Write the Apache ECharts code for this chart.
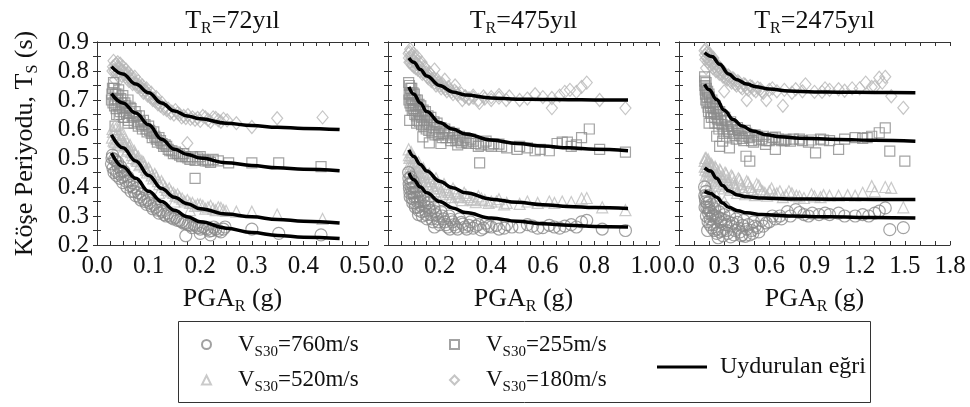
<!DOCTYPE html>
<html>
<head>
<meta charset="utf-8">
<script src="https://cdn.jsdelivr.net/npm/echarts@6/dist/echarts.min.js"></script>
<style>
  html, body { margin: 0; padding: 0; background: #fff; }
  #chart { width: 970px; height: 407px; }
</style>
</head>
<body>
<div id="chart"></div>
<script>
// ---- Return periods (one panel each) ----
const returnPeriods = ['72', '475', '2475'];
const xMaxes = [0.525, 1.05, 1.8];      // axis extent of each panel
const xTickSteps = [0.025, 0.05, 0.3];  // tick spacing
const xLabelSteps = [0.1, 0.2, 0.3];    // labelled ticks
const yTicks = [0.2, 0.9, 0.1];
const siteClasses = ['760', '520', '255', '180'];

// ---- T_R = 72 years : corner period T_S vs PGA_R ----
const tr72_v760 = [[0.028,0.480],[0.030,0.510],[0.033,0.450],[0.036,0.490],[0.038,0.440],[0.041,0.470],[0.044,0.430],[0.047,0.455],[0.050,0.415],[0.054,0.440],[0.058,0.400],[0.062,0.420],[0.066,0.385],[0.070,0.400],[0.075,0.370],[0.080,0.380],[0.085,0.355],[0.090,0.360],[0.096,0.340],[0.102,0.345],[0.108,0.325],[0.114,0.330],[0.120,0.310],[0.127,0.315],[0.134,0.300],[0.141,0.300],[0.148,0.290],[0.156,0.285],[0.164,0.280],[0.172,0.275],[0.180,0.268],[0.188,0.270],[0.196,0.260],[0.205,0.262],[0.214,0.255],[0.222,0.250],[0.230,0.255],[0.240,0.245],[0.248,0.262],[0.300,0.255],[0.352,0.240],[0.434,0.235],[0.172,0.232],[0.200,0.240],[0.220,0.235],
  [0.029,0.500],[0.031,0.465],[0.034,0.495],[0.037,0.455],[0.040,0.485],[0.043,0.445],[0.046,0.470],[0.049,0.435],[0.052,0.455],[0.056,0.420],[0.060,0.435],[0.064,0.405],[0.068,0.415],[0.072,0.385],[0.077,0.395],[0.082,0.365],[0.087,0.375],[0.093,0.350],[0.099,0.355],[0.105,0.335],[0.111,0.340],[0.117,0.320],[0.123,0.320],[0.130,0.305],[0.137,0.310],[0.144,0.295],[0.152,0.295],[0.160,0.285],[0.168,0.275],[0.176,0.270],[0.184,0.260],[0.192,0.265],[0.200,0.255],[0.210,0.258],[0.218,0.248],[0.226,0.262],[0.235,0.250],[0.245,0.255]];
const tr72_v520 = [[0.030,0.600],[0.032,0.560],[0.035,0.615],[0.038,0.580],[0.040,0.545],[0.043,0.600],[0.046,0.565],[0.050,0.585],[0.053,0.540],[0.056,0.560],[0.060,0.530],[0.064,0.545],[0.068,0.510],[0.072,0.525],[0.076,0.495],[0.080,0.505],[0.085,0.480],[0.090,0.485],[0.095,0.460],[0.100,0.465],[0.106,0.440],[0.112,0.445],[0.118,0.420],[0.125,0.420],[0.132,0.400],[0.140,0.395],[0.148,0.380],[0.156,0.375],[0.165,0.360],[0.175,0.355],[0.185,0.345],[0.195,0.340],[0.205,0.335],[0.215,0.330],[0.225,0.325],[0.235,0.330],[0.245,0.320],[0.270,0.315],[0.300,0.315],[0.349,0.305],[0.437,0.290],[0.150,0.350],[0.120,0.380],[0.180,0.320],
  [0.029,0.570],[0.031,0.590],[0.034,0.555],[0.036,0.600],[0.039,0.565],[0.042,0.580],[0.045,0.550],[0.048,0.570],[0.051,0.555],[0.055,0.545],[0.058,0.525],[0.062,0.540],[0.066,0.520],[0.070,0.500],[0.074,0.515],[0.078,0.490],[0.082,0.475],[0.087,0.490],[0.092,0.470],[0.097,0.450],[0.103,0.455],[0.109,0.430],[0.115,0.435],[0.121,0.410],[0.128,0.410],[0.135,0.390],[0.143,0.385],[0.152,0.370],[0.160,0.365],[0.170,0.350],[0.180,0.345],[0.190,0.335],[0.200,0.340],[0.210,0.325],[0.220,0.335],[0.230,0.320],[0.240,0.328],[0.250,0.318]];
const tr72_v255 = [[0.028,0.700],[0.030,0.740],[0.032,0.760],[0.034,0.680],[0.036,0.720],[0.038,0.650],[0.040,0.700],[0.042,0.735],[0.045,0.660],[0.047,0.690],[0.050,0.715],[0.053,0.640],[0.056,0.680],[0.060,0.700],[0.063,0.655],[0.066,0.670],[0.070,0.640],[0.074,0.660],[0.078,0.625],[0.082,0.645],[0.086,0.615],[0.090,0.630],[0.095,0.600],[0.100,0.610],[0.105,0.585],[0.110,0.590],[0.115,0.565],[0.120,0.570],[0.126,0.550],[0.132,0.545],[0.138,0.530],[0.145,0.525],[0.152,0.520],[0.160,0.510],[0.168,0.515],[0.176,0.500],[0.185,0.505],[0.195,0.500],[0.205,0.495],[0.215,0.490],[0.225,0.495],[0.255,0.483],[0.300,0.483],[0.352,0.483],[0.434,0.470],[0.190,0.430],[0.060,0.620],[0.035,0.610],
  [0.029,0.720],[0.031,0.690],[0.033,0.740],[0.035,0.700],[0.037,0.670],[0.039,0.720],[0.041,0.680],[0.043,0.650],[0.046,0.705],[0.049,0.670],[0.051,0.640],[0.054,0.690],[0.057,0.655],[0.061,0.630],[0.064,0.675],[0.068,0.645],[0.072,0.620],[0.076,0.645],[0.080,0.610],[0.084,0.625],[0.088,0.600],[0.093,0.615],[0.097,0.590],[0.102,0.595],[0.107,0.570],[0.112,0.575],[0.117,0.555],[0.123,0.560],[0.129,0.540],[0.135,0.540],[0.141,0.525],[0.148,0.515],[0.156,0.515],[0.164,0.505],[0.172,0.505],[0.180,0.495],[0.190,0.492],[0.200,0.505],[0.210,0.490],[0.220,0.485],[0.235,0.490]];
const tr72_v180 = [[0.030,0.800],[0.032,0.835],[0.035,0.820],[0.038,0.790],[0.040,0.830],[0.042,0.810],[0.045,0.825],[0.048,0.800],[0.050,0.815],[0.053,0.790],[0.056,0.805],[0.060,0.795],[0.063,0.775],[0.066,0.785],[0.070,0.770],[0.073,0.780],[0.076,0.755],[0.080,0.765],[0.084,0.745],[0.088,0.750],[0.092,0.735],[0.096,0.740],[0.100,0.720],[0.105,0.725],[0.110,0.705],[0.115,0.710],[0.120,0.690],[0.126,0.690],[0.132,0.675],[0.138,0.670],[0.145,0.660],[0.152,0.665],[0.160,0.650],[0.168,0.645],[0.176,0.648],[0.185,0.640],[0.195,0.638],[0.205,0.645],[0.215,0.632],[0.225,0.640],[0.235,0.630],[0.245,0.635],[0.270,0.620],[0.300,0.607],[0.349,0.637],[0.437,0.640],[0.175,0.551],[0.035,0.770],[0.045,0.775],
  [0.031,0.815],[0.034,0.800],[0.037,0.825],[0.041,0.795],[0.044,0.810],[0.047,0.785],[0.051,0.800],[0.055,0.780],[0.058,0.790],[0.062,0.765],[0.065,0.770],[0.069,0.755],[0.072,0.760],[0.078,0.745],[0.082,0.750],[0.086,0.735],[0.090,0.725],[0.094,0.730],[0.098,0.715],[0.103,0.710],[0.108,0.700],[0.113,0.695],[0.118,0.685],[0.123,0.680],[0.129,0.670],[0.135,0.665],[0.142,0.655],[0.149,0.650],[0.156,0.655],[0.164,0.640],[0.172,0.638],[0.181,0.635],[0.190,0.632],[0.200,0.628],[0.210,0.640],[0.220,0.625],[0.230,0.638],[0.240,0.625],[0.252,0.630]];

// ---- T_R = 475 years ----
const tr475_v760 = [[0.080,0.450],[0.082,0.410],[0.085,0.380],[0.088,0.435],[0.091,0.395],[0.094,0.360],[0.097,0.420],[0.100,0.380],[0.104,0.345],[0.108,0.400],[0.112,0.365],[0.116,0.330],[0.120,0.385],[0.125,0.350],[0.130,0.315],[0.136,0.365],[0.142,0.335],[0.148,0.305],[0.155,0.345],[0.162,0.320],[0.170,0.290],[0.178,0.330],[0.186,0.305],[0.195,0.280],[0.205,0.315],[0.215,0.290],[0.225,0.270],[0.237,0.300],[0.250,0.280],[0.263,0.262],[0.277,0.290],[0.290,0.272],[0.305,0.255],[0.320,0.280],[0.340,0.265],[0.360,0.252],[0.380,0.275],[0.400,0.262],[0.430,0.255],[0.460,0.270],[0.510,0.262],[0.560,0.265],[0.600,0.260],[0.645,0.262],[0.685,0.265],[0.730,0.262],[0.750,0.280],[0.770,0.285],[0.830,0.255],[0.920,0.250],[0.180,0.262],[0.240,0.255],[0.118,0.305],
  [0.081,0.430],[0.083,0.395],[0.086,0.365],[0.089,0.415],[0.093,0.380],[0.096,0.345],[0.099,0.400],[0.103,0.365],[0.106,0.330],[0.110,0.385],[0.114,0.350],[0.118,0.320],[0.123,0.365],[0.128,0.335],[0.133,0.300],[0.139,0.350],[0.145,0.318],[0.151,0.290],[0.158,0.330],[0.166,0.305],[0.174,0.280],[0.182,0.315],[0.191,0.290],[0.200,0.270],[0.210,0.300],[0.220,0.280],[0.231,0.262],[0.243,0.288],[0.256,0.270],[0.270,0.255],[0.284,0.278],[0.298,0.262],[0.313,0.268],[0.330,0.258],[0.350,0.270],[0.370,0.258],[0.390,0.265],[0.420,0.268],[0.450,0.258],[0.480,0.262],[0.540,0.270],[0.580,0.258],[0.625,0.268],[0.665,0.258],[0.710,0.270]];
const tr475_v520 = [[0.080,0.530],[0.083,0.500],[0.086,0.470],[0.090,0.520],[0.094,0.485],[0.098,0.455],[0.102,0.500],[0.107,0.470],[0.112,0.440],[0.118,0.485],[0.124,0.450],[0.130,0.425],[0.137,0.465],[0.144,0.435],[0.152,0.410],[0.160,0.445],[0.168,0.420],[0.177,0.395],[0.186,0.430],[0.196,0.405],[0.206,0.385],[0.217,0.410],[0.228,0.390],[0.240,0.375],[0.252,0.395],[0.265,0.378],[0.280,0.365],[0.295,0.380],[0.310,0.365],[0.330,0.355],[0.350,0.368],[0.375,0.355],[0.400,0.350],[0.430,0.358],[0.460,0.345],[0.540,0.350],[0.625,0.350],[0.675,0.350],[0.710,0.348],[0.750,0.360],[0.770,0.362],[0.830,0.330],[0.920,0.320],[0.155,0.355],[0.200,0.350],[0.120,0.380],[0.100,0.400],[0.250,0.345],
  [0.081,0.510],[0.084,0.480],[0.087,0.455],[0.091,0.505],[0.095,0.470],[0.100,0.445],[0.104,0.490],[0.109,0.455],[0.114,0.430],[0.120,0.470],[0.126,0.440],[0.133,0.415],[0.140,0.450],[0.147,0.420],[0.155,0.400],[0.163,0.430],[0.172,0.405],[0.181,0.385],[0.191,0.415],[0.201,0.395],[0.212,0.375],[0.223,0.400],[0.234,0.382],[0.246,0.365],[0.259,0.385],[0.272,0.368],[0.287,0.355],[0.302,0.372],[0.320,0.358],[0.340,0.348],[0.362,0.360],[0.390,0.345],[0.420,0.350],[0.450,0.340],[0.510,0.342],[0.580,0.345],[0.645,0.345]];
const tr475_v255 = [[0.080,0.760],[0.082,0.720],[0.085,0.690],[0.088,0.740],[0.091,0.705],[0.094,0.665],[0.097,0.725],[0.100,0.690],[0.104,0.650],[0.108,0.700],[0.112,0.670],[0.116,0.630],[0.120,0.685],[0.125,0.650],[0.130,0.615],[0.136,0.665],[0.142,0.630],[0.148,0.600],[0.155,0.645],[0.162,0.615],[0.170,0.590],[0.178,0.625],[0.186,0.600],[0.195,0.580],[0.205,0.605],[0.215,0.585],[0.225,0.570],[0.237,0.590],[0.250,0.570],[0.263,0.560],[0.277,0.575],[0.290,0.560],[0.305,0.555],[0.320,0.565],[0.340,0.550],[0.360,0.545],[0.380,0.558],[0.400,0.540],[0.430,0.548],[0.460,0.535],[0.510,0.540],[0.570,0.525],[0.625,0.525],[0.655,0.550],[0.675,0.555],[0.695,0.555],[0.750,0.570],[0.780,0.600],[0.820,0.530],[0.920,0.520],[0.355,0.483],[0.084,0.630],[0.111,0.620],[0.135,0.573],[0.160,0.552],[0.205,0.550],[0.270,0.545],[0.500,0.530],
  [0.081,0.700],[0.083,0.750],[0.086,0.720],[0.089,0.680],[0.092,0.740],[0.095,0.700],[0.099,0.670],[0.102,0.720],[0.106,0.680],[0.110,0.645],[0.114,0.700],[0.118,0.660],[0.122,0.625],[0.127,0.680],[0.132,0.640],[0.138,0.610],[0.145,0.660],[0.151,0.620],[0.158,0.595],[0.166,0.640],[0.174,0.605],[0.182,0.580],[0.190,0.620],[0.200,0.590],[0.210,0.570],[0.220,0.600],[0.231,0.580],[0.243,0.560],[0.256,0.585],[0.270,0.565],[0.284,0.552],[0.298,0.570],[0.313,0.550],[0.330,0.558],[0.350,0.540],[0.370,0.552],[0.390,0.545],[0.410,0.550],[0.440,0.540],[0.540,0.535],[0.590,0.530],[0.710,0.540],[0.730,0.545]];
const tr475_v180 = [[0.080,0.860],[0.083,0.830],[0.086,0.875],[0.090,0.845],[0.094,0.820],[0.098,0.860],[0.102,0.835],[0.107,0.810],[0.112,0.850],[0.118,0.820],[0.124,0.800],[0.130,0.830],[0.137,0.795],[0.144,0.810],[0.152,0.780],[0.160,0.795],[0.168,0.765],[0.177,0.775],[0.186,0.750],[0.196,0.760],[0.206,0.740],[0.217,0.745],[0.228,0.730],[0.240,0.735],[0.252,0.720],[0.265,0.725],[0.288,0.700],[0.300,0.712],[0.315,0.705],[0.330,0.715],[0.354,0.690],[0.375,0.705],[0.400,0.710],[0.430,0.717],[0.458,0.700],[0.510,0.700],[0.570,0.720],[0.635,0.672],[0.635,0.707],[0.685,0.728],[0.705,0.735],[0.750,0.745],[0.770,0.760],[0.820,0.700],[0.920,0.672],[0.180,0.805],[0.220,0.770],[0.260,0.750],
  [0.081,0.845],[0.084,0.865],[0.088,0.830],[0.092,0.855],[0.096,0.835],[0.100,0.815],[0.105,0.845],[0.110,0.825],[0.115,0.805],[0.121,0.830],[0.127,0.810],[0.133,0.790],[0.140,0.815],[0.148,0.795],[0.156,0.775],[0.164,0.790],[0.172,0.770],[0.181,0.760],[0.191,0.770],[0.201,0.750],[0.211,0.755],[0.222,0.738],[0.234,0.745],[0.246,0.728],[0.258,0.732],[0.271,0.718],[0.284,0.722],[0.298,0.712],[0.312,0.705],[0.330,0.708],[0.350,0.700],[0.370,0.712],[0.400,0.700],[0.430,0.708],[0.470,0.712],[0.540,0.705],[0.600,0.710],[0.665,0.715],[0.730,0.728]];

// ---- T_R = 2475 years ----
const tr2475_v760 = [[0.170,0.400],[0.175,0.360],[0.180,0.385],[0.185,0.330],[0.190,0.370],[0.196,0.310],[0.202,0.350],[0.208,0.290],[0.215,0.340],[0.222,0.300],[0.230,0.270],[0.238,0.325],[0.246,0.290],[0.255,0.255],[0.265,0.315],[0.275,0.280],[0.286,0.250],[0.298,0.305],[0.310,0.270],[0.323,0.240],[0.336,0.300],[0.350,0.265],[0.365,0.235],[0.380,0.290],[0.396,0.258],[0.413,0.232],[0.430,0.285],[0.450,0.255],[0.470,0.235],[0.495,0.280],[0.520,0.260],[0.550,0.285],[0.580,0.276],[0.620,0.300],[0.670,0.300],[0.720,0.315],[0.775,0.322],[0.830,0.305],[0.885,0.310],[0.970,0.310],[1.060,0.310],[1.170,0.300],[1.260,0.300],[1.330,0.317],[1.370,0.328],[1.400,0.253],[1.490,0.260],[0.190,0.250],[0.260,0.225],[0.420,0.236],[0.490,0.240],[0.300,0.330],[0.200,0.320],
  [0.171,0.370],[0.173,0.330],[0.177,0.350],[0.182,0.300],[0.187,0.345],[0.193,0.280],[0.199,0.330],[0.205,0.270],[0.211,0.315],[0.218,0.260],[0.226,0.305],[0.234,0.250],[0.242,0.300],[0.251,0.240],[0.260,0.295],[0.270,0.245],[0.280,0.290],[0.292,0.232],[0.304,0.285],[0.316,0.250],[0.330,0.280],[0.343,0.228],[0.357,0.275],[0.372,0.250],[0.388,0.278],[0.405,0.245],[0.422,0.268],[0.440,0.230],[0.460,0.270],[0.482,0.250],[0.505,0.265],[0.530,0.245],[0.560,0.265],[0.600,0.280],[0.640,0.290],[0.680,0.290],[0.740,0.300],[0.800,0.312],[0.860,0.300],[0.930,0.305],[1.000,0.305],[1.100,0.300],[1.220,0.305],[1.300,0.310]];
const tr2475_v520 = [[0.170,0.490],[0.175,0.460],[0.180,0.500],[0.186,0.470],[0.192,0.440],[0.198,0.485],[0.205,0.455],[0.212,0.425],[0.220,0.475],[0.228,0.445],[0.236,0.415],[0.245,0.465],[0.255,0.435],[0.265,0.405],[0.276,0.455],[0.288,0.425],[0.300,0.395],[0.313,0.445],[0.326,0.415],[0.340,0.390],[0.355,0.435],[0.370,0.405],[0.386,0.380],[0.402,0.425],[0.420,0.400],[0.440,0.375],[0.460,0.415],[0.482,0.392],[0.505,0.372],[0.530,0.405],[0.556,0.385],[0.585,0.370],[0.615,0.395],[0.650,0.378],[0.690,0.365],[0.730,0.385],[0.780,0.370],[0.830,0.362],[0.880,0.375],[0.940,0.365],[1.000,0.370],[1.060,0.370],[1.170,0.370],[1.280,0.403],[1.370,0.400],[1.410,0.397],[1.490,0.330],[0.200,0.400],[0.250,0.370],[0.300,0.350],[0.180,0.420],
  [0.171,0.470],[0.174,0.500],[0.178,0.440],[0.183,0.480],[0.188,0.455],[0.194,0.495],[0.200,0.465],[0.207,0.440],[0.214,0.480],[0.222,0.455],[0.230,0.430],[0.240,0.470],[0.250,0.445],[0.260,0.420],[0.271,0.460],[0.282,0.435],[0.294,0.410],[0.306,0.450],[0.319,0.425],[0.333,0.400],[0.347,0.440],[0.362,0.415],[0.378,0.395],[0.394,0.430],[0.411,0.410],[0.430,0.390],[0.450,0.420],[0.470,0.400],[0.492,0.385],[0.516,0.410],[0.540,0.392],[0.570,0.380],[0.600,0.385],[0.630,0.375],[0.670,0.385],[0.710,0.372],[0.750,0.378],[0.800,0.368],[0.900,0.368],[0.960,0.372],[1.120,0.372],[1.220,0.380],[1.300,0.385]];
const tr2475_v255 = [[0.170,0.780],[0.172,0.750],[0.176,0.720],[0.180,0.760],[0.185,0.690],[0.190,0.730],[0.196,0.660],[0.202,0.710],[0.208,0.680],[0.215,0.640],[0.222,0.690],[0.230,0.660],[0.238,0.620],[0.246,0.670],[0.255,0.635],[0.265,0.600],[0.275,0.650],[0.286,0.615],[0.298,0.585],[0.310,0.630],[0.323,0.600],[0.336,0.575],[0.350,0.610],[0.365,0.585],[0.380,0.565],[0.396,0.595],[0.413,0.575],[0.430,0.560],[0.450,0.585],[0.470,0.570],[0.495,0.555],[0.520,0.575],[0.550,0.565],[0.580,0.560],[0.620,0.570],[0.660,0.565],[0.700,0.560],[0.760,0.565],[0.820,0.560],[0.880,0.562],[0.940,0.565],[1.000,0.560],[0.200,0.620],[0.250,0.575],[0.290,0.558],[0.335,0.535],[0.445,0.506],[0.470,0.489],[0.575,0.547],[0.640,0.530],[0.710,0.564],[0.907,0.518],[1.060,0.530],[1.170,0.570],[1.280,0.575],[1.330,0.587],[1.370,0.604],[1.400,0.524],[1.500,0.489],[0.270,0.540],
  [0.171,0.765],[0.174,0.735],[0.178,0.700],[0.182,0.740],[0.187,0.710],[0.193,0.675],[0.199,0.720],[0.205,0.690],[0.211,0.655],[0.218,0.700],[0.226,0.670],[0.234,0.640],[0.242,0.680],[0.251,0.650],[0.260,0.620],[0.270,0.660],[0.280,0.630],[0.292,0.600],[0.304,0.640],[0.316,0.610],[0.330,0.590],[0.343,0.625],[0.357,0.598],[0.372,0.578],[0.388,0.605],[0.405,0.585],[0.422,0.568],[0.440,0.595],[0.460,0.575],[0.482,0.560],[0.505,0.580],[0.530,0.562],[0.560,0.575],[0.600,0.560],[0.640,0.572],[0.680,0.560],[0.740,0.558],[0.800,0.565],[0.860,0.555],[0.960,0.562],[1.100,0.565],[1.220,0.568],[1.250,0.570]];
const tr2475_v180 = [[0.170,0.870],[0.175,0.840],[0.180,0.810],[0.185,0.860],[0.192,0.830],[0.200,0.855],[0.208,0.820],[0.216,0.845],[0.225,0.810],[0.235,0.830],[0.245,0.800],[0.256,0.815],[0.268,0.790],[0.280,0.805],[0.293,0.780],[0.306,0.790],[0.320,0.770],[0.335,0.780],[0.350,0.760],[0.366,0.770],[0.382,0.750],[0.400,0.760],[0.420,0.740],[0.440,0.752],[0.460,0.735],[0.485,0.745],[0.510,0.730],[0.540,0.738],[0.580,0.700],[0.620,0.740],[0.690,0.680],[0.775,0.737],[0.840,0.754],[0.970,0.740],[1.060,0.737],[1.150,0.740],[1.240,0.760],[1.280,0.745],[1.330,0.777],[1.370,0.780],[1.410,0.713],[1.490,0.673],[0.450,0.700],[0.300,0.730],[0.560,0.725],[0.900,0.728],[1.100,0.732],
  [0.172,0.855],[0.177,0.875],[0.183,0.845],[0.189,0.865],[0.195,0.840],[0.203,0.860],[0.211,0.835],[0.219,0.825],[0.228,0.845],[0.238,0.815],[0.249,0.825],[0.260,0.800],[0.272,0.810],[0.285,0.790],[0.298,0.795],[0.312,0.775],[0.327,0.785],[0.342,0.765],[0.358,0.775],[0.374,0.755],[0.391,0.765],[0.410,0.745],[0.430,0.755],[0.450,0.740],[0.472,0.748],[0.497,0.735],[0.522,0.742],[0.550,0.730],[0.600,0.735],[0.650,0.730],[0.700,0.735],[0.750,0.725],[0.820,0.730],[0.950,0.728],[1.000,0.735],[1.200,0.740],[1.300,0.745],[1.350,0.760]];

// ---- Fitted curves ----
const fit72_v760 = [[0.028,0.517],[0.05,0.47],[0.075,0.43],[0.1,0.385],[0.125,0.35],[0.15,0.32],[0.175,0.297],[0.2,0.28],[0.25,0.258],[0.3,0.243],[0.35,0.233],[0.4,0.227],[0.47,0.222]];
const fit72_v520 = [[0.028,0.58],[0.05,0.535],[0.075,0.49],[0.1,0.44],[0.125,0.395],[0.15,0.365],[0.175,0.342],[0.2,0.325],[0.25,0.307],[0.3,0.297],[0.35,0.288],[0.4,0.282],[0.47,0.276]];
const fit72_v255 = [[0.028,0.722],[0.05,0.69],[0.075,0.655],[0.1,0.615],[0.125,0.565],[0.15,0.53],[0.175,0.512],[0.2,0.5],[0.25,0.484],[0.3,0.474],[0.35,0.466],[0.4,0.461],[0.47,0.456]];
const fit72_v180 = [[0.028,0.815],[0.05,0.79],[0.075,0.755],[0.1,0.725],[0.125,0.69],[0.15,0.662],[0.175,0.645],[0.2,0.635],[0.25,0.62],[0.3,0.612],[0.35,0.606],[0.4,0.602],[0.47,0.598]];
const fit475_v760 = [[0.081,0.448],[0.1,0.425],[0.125,0.4],[0.15,0.38],[0.2,0.35],[0.25,0.328],[0.3,0.312],[0.4,0.293],[0.5,0.282],[0.6,0.273],[0.7,0.268],[0.8,0.264],[0.93,0.262]];
const fit475_v520 = [[0.081,0.528],[0.1,0.505],[0.125,0.478],[0.15,0.455],[0.2,0.42],[0.25,0.397],[0.3,0.38],[0.4,0.358],[0.5,0.347],[0.6,0.339],[0.7,0.333],[0.8,0.329],[0.93,0.326]];
const fit475_v255 = [[0.081,0.745],[0.1,0.72],[0.125,0.69],[0.15,0.66],[0.2,0.622],[0.25,0.6],[0.3,0.583],[0.4,0.562],[0.5,0.55],[0.6,0.541],[0.7,0.535],[0.8,0.53],[0.93,0.525]];
const fit475_v180 = [[0.081,0.845],[0.1,0.83],[0.125,0.805],[0.15,0.783],[0.2,0.75],[0.25,0.728],[0.3,0.717],[0.4,0.707],[0.5,0.703],[0.6,0.702],[0.7,0.701],[0.8,0.7],[0.93,0.7]];
const fit2475_v760 = [[0.17,0.385],[0.21,0.378],[0.25,0.365],[0.29,0.345],[0.33,0.33],[0.39,0.318],[0.45,0.311],[0.55,0.305],[0.73,0.3],[1.0,0.297],[1.3,0.295],[1.57,0.293]];
const fit2475_v520 = [[0.17,0.466],[0.21,0.455],[0.25,0.43],[0.29,0.405],[0.33,0.387],[0.39,0.372],[0.45,0.366],[0.55,0.362],[0.73,0.359],[1.0,0.358],[1.3,0.357],[1.57,0.357]];
const fit2475_v255 = [[0.17,0.754],[0.2,0.735],[0.25,0.702],[0.3,0.665],[0.36,0.633],[0.42,0.61],[0.49,0.593],[0.58,0.58],[0.67,0.573],[0.8,0.568],[1.06,0.564],[1.3,0.561],[1.57,0.558]];
const fit2475_v180 = [[0.17,0.863],[0.22,0.85],[0.27,0.823],[0.33,0.79],[0.38,0.771],[0.45,0.755],[0.51,0.746],[0.6,0.738],[0.73,0.731],[0.9,0.728],[1.06,0.727],[1.3,0.726],[1.57,0.725]];

const pointSets = [
  { '760': tr72_v760, '520': tr72_v520, '255': tr72_v255, '180': tr72_v180 },
  { '760': tr475_v760, '520': tr475_v520, '255': tr475_v255, '180': tr475_v180 },
  { '760': tr2475_v760, '520': tr2475_v520, '255': tr2475_v255, '180': tr2475_v180 }
];
const fitSets = [
  [fit72_v760, fit72_v520, fit72_v255, fit72_v180],
  [fit475_v760, fit475_v520, fit475_v255, fit475_v180],
  [fit2475_v760, fit2475_v520, fit2475_v255, fit2475_v180]
];

// ---- Styling ----
const FONT = '"Liberation Serif", "Times New Roman", serif';
const INK = '#111';
const AXIS = '#333';
const markerStyle = {
  '760': { symbol: 'circle', size: 12, color: '#8a8a8a' },
  '520': { symbol: 'triangle', size: 11, color: '#bdbdbd' },
  '255': { symbol: 'rect', size: 10, color: '#8c8c8c' },
  '180': { symbol: 'diamond', size: [11, 13], color: '#b6b6b6' }
};
const seriesName = c => 'V' + c;
const fitName = 'Uydurulan eğri';

const gridLeft = [97, 388, 679];
const gridTop = 42, gridW = 271, gridH = 203;

const rich = {
  t: { fontFamily: FONT, fontSize: 26, color: INK },
  s: { fontFamily: FONT, fontSize: 16, color: INK, padding: [16, 0, 0, 0] }
};

// label only the ticks that fall on a multiple of the label step
const labelAt = step => v => {
  const k = v / step;
  return Math.abs(k - Math.round(k)) < 1e-6 ? v.toFixed(1) : '';
};

const grids = [], xAxes = [], yAxes = [], series = [];
returnPeriods.forEach((tr, i) => {
  grids.push({ left: gridLeft[i], top: gridTop, width: gridW, height: gridH });
  const tickBase = {
    axisLine: { show: true, lineStyle: { color: AXIS, width: 1 } },
    axisTick: { show: true, inside: true, length: 4, lineStyle: { color: AXIS } },
    splitLine: { show: false }
  };
  const xMinor = { show: i === 2, length: 4, splitNumber: 3, lineStyle: { color: AXIS } };
  const yMinor = { show: true, length: 4, splitNumber: 2, lineStyle: { color: AXIS } };
  // bottom x axis: tick labels and axis title
  xAxes.push(Object.assign({}, tickBase, {
    type: 'value', gridIndex: i, position: 'bottom',
    min: 0, max: xMaxes[i], interval: xTickSteps[i], minorTick: xMinor,
    axisLabel: { show: true, margin: 9, fontFamily: FONT, fontSize: 25, color: INK,
      showMinLabel: true, showMaxLabel: true, formatter: labelAt(xLabelSteps[i]) },
    name: '{t|PGA}{s|R}{t| (g)}', nameLocation: 'middle', nameGap: 38,
    nameTextStyle: { rich }
  }));
  // top x axis: mirrored ticks and the panel title
  xAxes.push(Object.assign({}, tickBase, {
    type: 'value', gridIndex: i, position: 'top',
    min: 0, max: xMaxes[i], interval: xTickSteps[i], minorTick: xMinor,
    axisLabel: { show: false },
    name: '{t|T}{s|R}{t|=' + tr + 'yıl}', nameLocation: 'middle', nameGap: 5,
    nameTextStyle: { rich }
  }));
  // left y axis
  yAxes.push(Object.assign({}, tickBase, {
    type: 'value', gridIndex: i, position: 'left',
    min: yTicks[0], max: yTicks[1], interval: yTicks[2], minorTick: yMinor,
    axisLabel: { show: i === 0, margin: 8, fontFamily: FONT, fontSize: 25, color: INK,
      formatter: v => v.toFixed(1) },
    name: i === 0 ? '{t|Köşe Periyodu, T}{s|S}{t| (s)}' : '',
    nameLocation: 'middle', nameGap: 56, nameRotate: 90,
    nameTextStyle: { rich }
  }));
  // right y axis: mirrored ticks
  yAxes.push(Object.assign({}, tickBase, {
    type: 'value', gridIndex: i, position: 'right',
    min: yTicks[0], max: yTicks[1], interval: yTicks[2], minorTick: yMinor,
    axisLabel: { show: false }
  }));

  ['180', '255', '520', '760'].forEach(c => {
    const m = markerStyle[c];
    series.push({
      type: 'scatter', name: seriesName(c),
      xAxisIndex: i * 2, yAxisIndex: i * 2,
      data: pointSets[i][c],
      symbol: m.symbol, symbolSize: m.size,
      itemStyle: { color: 'rgba(255,255,255,0)', borderColor: m.color, borderWidth: 1.2 },
      z: 2
    });
  });
  fitSets[i].forEach(curve => {
    series.push({
      type: 'line', name: fitName,
      xAxisIndex: i * 2, yAxisIndex: i * 2,
      data: curve, smooth: 0.4, smoothMonotone: 'x', showSymbol: false, symbol: 'none',
      lineStyle: { color: '#000', width: 3.5 }, itemStyle: { color: '#000' },
      z: 5
    });
  });
});

const legendRich = {
  n: { fontFamily: FONT, fontSize: 23, color: INK, padding: [0, 0, 0, 22] },
  s: { fontFamily: FONT, fontSize: 15, color: INK, padding: [15, 0, 0, 0] },
  t: { fontFamily: FONT, fontSize: 23, color: INK }
};
const vsFormatter = name => '{n|V}{s|S30}{t|=' + name.slice(1) + 'm/s}';

const option = {
  animation: false,
  backgroundColor: '#fff',
  grid: grids,
  xAxis: xAxes,
  yAxis: yAxes,
  legend: [
    { data: ['V760', 'V520'], orient: 'vertical', left: 196, top: 328, itemWidth: 9, itemHeight: 9,
      itemGap: 9, formatter: vsFormatter, textStyle: { rich: legendRich }, selectedMode: false },
    { data: ['V255', 'V180'], orient: 'vertical', left: 444, top: 328, itemWidth: 9, itemHeight: 9,
      itemGap: 9, formatter: vsFormatter, textStyle: { rich: legendRich }, selectedMode: false },
    { data: [{ name: fitName, icon: 'rect' }], left: 652, top: 350, itemWidth: 50, itemHeight: 3,
      textStyle: { fontFamily: FONT, fontSize: 24, color: INK, padding: [0, 0, 0, 8] }, selectedMode: false }
  ],
  graphic: [{
    type: 'rect', left: 176, top: 319, silent: true,
    shape: { width: 692, height: 81 },
    style: { fill: 'none', stroke: AXIS, lineWidth: 1 }
  }],
  series
};

const chart = echarts.init(document.getElementById('chart'), null, { renderer: 'canvas' });
chart.setOption(option);
</script>
</body>
</html>
